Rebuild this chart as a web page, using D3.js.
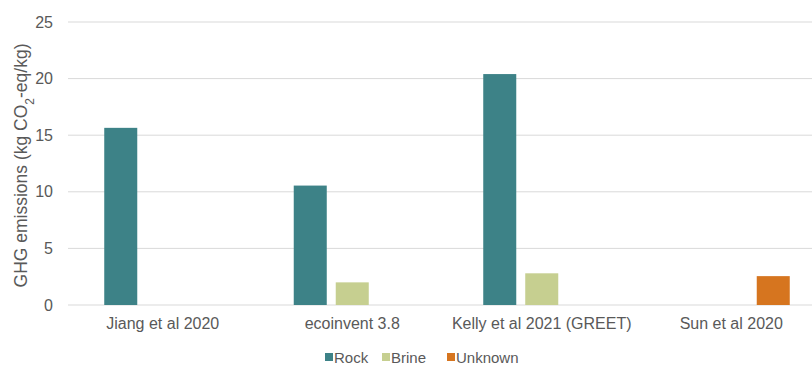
<!DOCTYPE html>
<html>
<head>
<meta charset="utf-8">
<script src="https://cdn.jsdelivr.net/npm/d3@7"></script>
<style>
  body { margin: 0; background: #fff; }
  text { font-family: "Liberation Sans", Arial, sans-serif; fill: #595959; }
</style>
</head>
<body>
<div id="container"></div>
<script>
var width = 812,
    height = 366,
    margin = { left: 68, top: 22, right: -14, bottom: 61 },
    g_width = width - margin.left - margin.right,
    g_height = height - margin.top - margin.bottom;

// data
var categories = ["Jiang et al 2020", "ecoinvent 3.8", "Kelly et al 2021 (GREET)", "Sun et al 2020"];
var series = ["Rock", "Brine", "Unknown"];
var rock = [15.65, 10.55, 20.4, null];
var brine = [null, 2.0, 2.8, null];
var unknown = [null, null, null, 2.55];
var colors = ["#3d8287", "#c6cf90", "#d6751f"];
var y_ticks = [0, 5, 10, 15, 20, 25];

var values = [rock, brine, unknown];

var svg = d3.select("#container")
            .append("svg")
            .attr("width", width)
            .attr("height", height);

var g = svg.append("g")
           .attr("transform", "translate(" + margin.left + "," + margin.top + ")");

var scale_x = d3.scaleBand()
                .domain(categories)
                .range([0, g_width]);

var scale_s = d3.scaleBand()
                .domain(series)
                .range([-63, 63])
                .paddingInner(0.214)
                .paddingOuter(0.107);

var scale_y = d3.scaleLinear()
                .domain([0, 25])
                .range([g_height, 0]);

// gridlines
g.selectAll(".grid")
  .data(y_ticks)
  .enter()
  .append("line")
  .attr("x1", 0)
  .attr("x2", g_width)
  .attr("y1", function(d) { return scale_y(d); })
  .attr("y2", function(d) { return scale_y(d); })
  .attr("stroke", "#d9d9d9")
  .attr("stroke-width", 1);

// y tick labels
var y_axis = d3.axisLeft(scale_y).tickValues(y_ticks).tickSize(0).tickPadding(15);
var ya = g.append("g").call(y_axis);
ya.select(".domain").remove();
ya.selectAll("text").style("font-size", "16px").attr("fill", "#595959");

// x labels
var x_axis = d3.axisBottom(scale_x).tickSize(0).tickPadding(13);
var xa = g.append("g")
          .attr("transform", "translate(0," + g_height + ")")
          .call(x_axis);
xa.select(".domain").remove();
xa.selectAll("text").style("font-size", "16px").attr("fill", "#595959");

// bars
series.forEach(function(s, si) {
  g.selectAll(".bar" + si)
    .data(values[si])
    .enter()
    .filter(function(d) { return d != null; })
    .append("rect")
    .attr("x", function(d) {
      var idx = values[si].indexOf(d);
      return scale_x(categories[idx]) + scale_x.bandwidth() / 2 + scale_s(s);
    })
    .attr("y", function(d) { return scale_y(d); })
    .attr("width", scale_s.bandwidth())
    .attr("height", function(d) { return g_height - scale_y(d); })
    .attr("fill", colors[si]);
});

// y axis title
svg.append("text")
   .attr("transform", "translate(27," + (margin.top + g_height / 2 + 2) + ") rotate(-90)")
   .attr("text-anchor", "middle")
   .style("font-size", "17.5px")
   .html('GHG emissions (kg CO<tspan baseline-shift="sub" font-size="12px">2</tspan>-eq/kg)');

// legend
var legend_x = [325, 382, 447];
var lg = svg.append("g").attr("transform", "translate(0,358)");
series.forEach(function(s, i) {
  lg.append("rect")
    .attr("x", legend_x[i])
    .attr("y", -5)
    .attr("width", 8)
    .attr("height", 8)
    .attr("fill", colors[i]);
  lg.append("text")
    .attr("x", legend_x[i] + 9)
    .attr("y", 5)
    .style("font-size", "15px")
    .text(s);
});
</script>
</body>
</html>
